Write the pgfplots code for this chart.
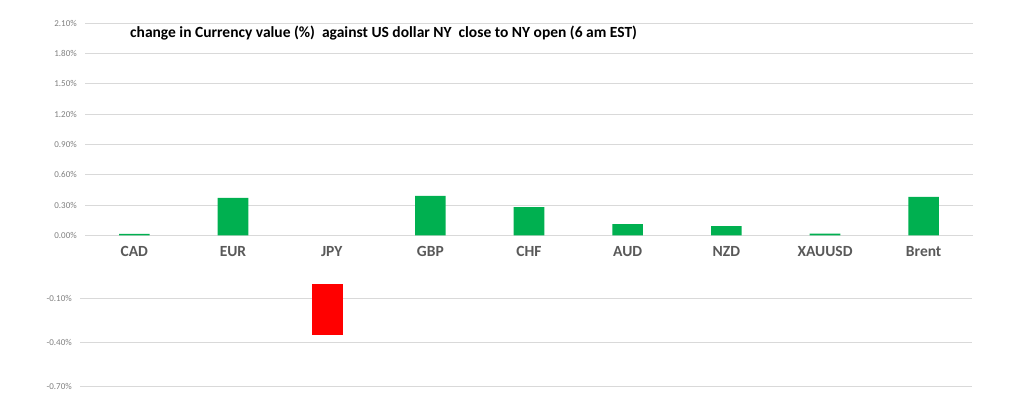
\documentclass[border=0pt]{standalone}
\usepackage{pgfplots}
\pgfplotsset{compat=1.18}
\usepackage{fontspec}
\setmainfont{Carlito}
\definecolor{barGreen}{HTML}{00B050}
\definecolor{barRed}{HTML}{FF0000}
\definecolor{gridGray}{HTML}{D9D9D9}
\definecolor{tickGray}{HTML}{7F7F7F}
\definecolor{catGray}{HTML}{595959}
\begin{document}
\begin{tikzpicture}
\path[use as bounding box] (0,0) rectangle (1024pt,412pt);
\pgfplotsset{
 common/.style={
  scale only axis, xmin=-0.5, xmax=8.5,
  axis line style={draw=none},
  major tick style={draw=none},
  ymajorgrids, grid style={gridGray, line width=0.9pt},
  ybar, bar width=30.6pt,
  yticklabel style={font=\fontsize{9}{10}\selectfont, text=tickGray, anchor=east, inner sep=0pt, xshift=-8pt},
  clip=false,
 }
}
\begin{axis}[common, at={(85pt,176.7pt)}, anchor=south west, width=888pt, height=212pt,
  ymin=0, ymax=2.1,
  ytick={0,0.3,0.6,0.9,1.2,1.5,1.8,2.1},
  yticklabels={0.00\%,0.30\%,0.60\%,0.90\%,1.20\%,1.50\%,1.80\%,2.10\%},
  xtick={0,1,2,3,4,5,6,7,8},
  xticklabels={CAD,EUR,JPY,GBP,CHF,AUD,NZD,XAUUSD,Brent},
  xticklabel style={font=\fontsize{15.5}{18}\selectfont\bfseries, text=catGray, anchor=center, inner sep=0pt, yshift=-11.5pt},
]
\addplot[fill=barGreen, draw=none] coordinates {(0,0.013)(1,0.37)(3,0.39)(4,0.28)(5,0.11)(6,0.09)(7,0.016)(8,0.38)};
\end{axis}
\begin{axis}[common, at={(80pt,18.5pt)}, anchor=south west, width=892pt, height=109.5pt,
  ymin=-0.75, ymax=0,
  ytick={-0.7,-0.4,-0.1},
  yticklabels={-0.70\%,-0.40\%,-0.10\%},
  xtick=\empty,
]
\addplot[fill=barRed, draw=none] coordinates {(2,-0.35)};
\end{axis}
\node[anchor=base west, inner sep=0pt, font=\fontsize{15.5}{18}\selectfont\bfseries] at (130pt,374.5pt) {change in Currency value (\%) \ against US dollar NY \ close to NY open (6 am EST)};
\end{tikzpicture}
\end{document}
